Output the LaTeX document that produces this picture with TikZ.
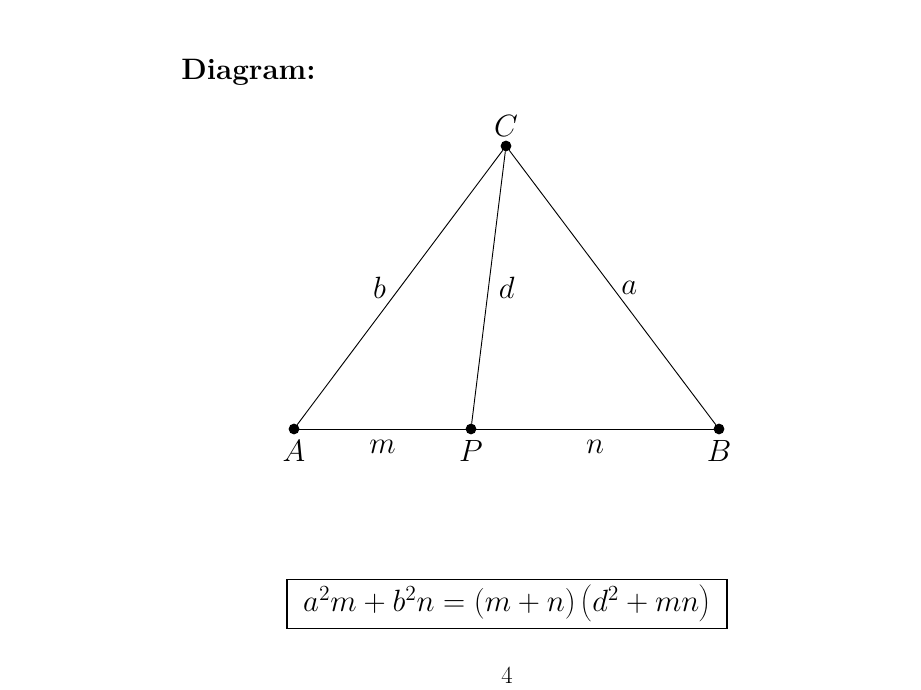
\RequirePackage{fix-cm}
\documentclass[tikz,border=0pt]{standalone}
\usepackage{tikz}
\usetikzlibrary{positioning}

\begin{document}
\begin{tikzpicture}[x=0.65pt,y=0.65pt,
  line width=0.6pt,
  pt/.style={circle,fill=black,inner sep=0pt,outer sep=0pt,minimum size=7pt},
  vlab/.style={inner sep=0pt,font=\fontsize{20}{24}\selectfont},
  eqbox/.style={draw,line width=0.7pt,minimum width=286pt,minimum height=31.85pt,inner sep=0pt,font=\fontsize{20}{24}\selectfont}]
  \useasboundingbox (0,0) rectangle (921,690);

  \node[anchor=base west,inner sep=0pt,font=\bfseries\fontsize{19.2}{23}\selectfont] (title) at (181,610) {Diagram:};

  \node[pt] (A) at (294,261) {};
  \node[pt] (P) at (471,261) {};
  \node[pt] (B) at (719,261) {};
  \node[pt] (C) at (506,544) {};

  \node[vlab,below=3.8pt of A] (lA) {$A$};
  \node[vlab,below=3.8pt of P] (lP) {$P$};
  \node[vlab,below=3.8pt of B] (lB) {$B$};
  \node[vlab,above=2.4pt of C] (lC) {$C$};

  \path
    (A) edge node[vlab,below=6.7pt] (lm) {$m$} (P)
    (P) edge node[vlab,below=6.7pt] (ln) {$n$} (B)
    (A) edge node[vlab,left=8.8pt] (lb) {$b$} (C)
    (P) edge node[vlab,right=6.5pt] (ld) {$d$} (C)
    (C) edge node[vlab,right=5.5pt] (la) {$a$} (B);

  \node[eqbox] (eq) at (507,86.3) {$a^2m+b^2n=(m+n)\left(d^2+mn\right)$};

  \node[inner sep=0pt,font=\fontsize{16}{19}\selectfont] (pg) at (507,15) {4};
\end{tikzpicture}
\end{document}
